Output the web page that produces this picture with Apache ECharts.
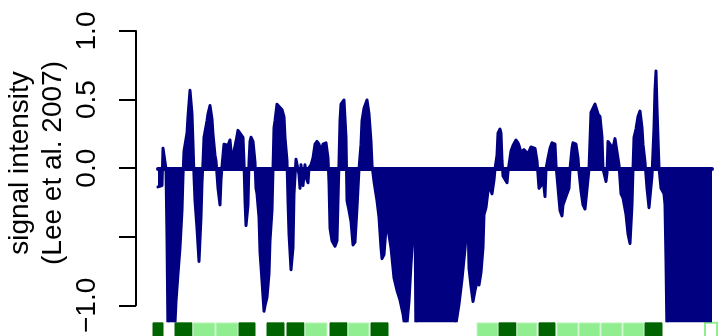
<!DOCTYPE html>
<html>
<head>
<meta charset="utf-8">
<script src="https://cdn.jsdelivr.net/npm/echarts@6/dist/echarts.min.js"></script>
<style>
  html, body { margin: 0; padding: 0; background: #fff; }
  #chart { width: 728px; height: 336px; }
</style>
</head>
<body>
<div id="chart"></div>
<script>
// probe positions (arbitrary units along the region) and signal values
const pos = [
  0, 2, 4, 5, 7, 8, 9, 10, 12, 14, 16, 17, 18, 20, 22, 24, 25, 26, 27, 29, 30, 32, 34, 35, 36, 37, 39, 41, 43, 44,
  45, 46, 49, 50, 52, 54, 55, 57, 58, 60, 62, 63, 64, 66, 68, 70, 72, 74, 75, 76, 78, 80, 82, 85, 86, 87, 88, 90, 91, 92,
  93, 95, 97, 98, 99, 101, 102, 104, 106, 107, 109, 111, 112, 114, 115, 116, 117, 119, 121, 124, 126, 127, 129, 130, 131, 133, 135, 136, 138, 140,
  141, 142, 143, 145, 147, 148, 150, 151, 153, 155, 157, 159, 161, 163, 165, 168, 170, 171, 172, 174, 177, 179, 180, 181, 182, 183, 186, 188, 189, 191,
  193, 195, 197, 199, 201, 203, 204, 206, 209, 211, 213, 214, 216, 219, 221, 223, 224, 226, 228, 229, 231, 233, 236, 239, 242, 245, 248, 250, 251, 253,
  255, 257, 258, 260, 264, 268, 272, 276, 280, 284, 288, 292, 296, 298, 301, 304, 307, 309, 310, 311, 313, 315, 317, 319, 321, 323, 325, 326, 328, 330,
  332, 334, 336, 337, 339, 340, 342, 343, 344, 345, 347, 349, 350, 352, 353, 355, 358, 360, 361, 363, 366, 368, 370, 373, 375, 377, 379, 381, 383, 385,
  387, 388, 390, 392, 394, 397, 398, 400, 402, 404, 405, 407, 409, 411, 412, 414, 415, 418, 420, 421, 423, 425, 427, 429, 431, 433, 435, 437, 439, 440,
  442, 444, 445, 448, 449, 450, 452, 455, 457, 459, 461, 463, 465, 468, 470, 472, 474, 475, 476, 478, 480, 482, 484, 485, 487, 489, 491, 492, 494, 496,
  497, 498, 499, 501, 503, 506, 507, 508, 509, 512, 517, 522, 527, 532, 537, 542, 547, 552, 554
];
const signal = [
  -0.13, -0.14, -0.12, 0.15, 0.15, 0.0, -0.5, -1.2, -1.3, -1.3, -1.25, -1.12, -0.96, -0.76, -0.57, -0.3, -0.05, 0.13, 0.13, 0.26, 0.38, 0.57, 0.4, 0.18, -0.05, -0.23, -0.43, -0.67, -0.35, -0.1,
  0.05, 0.23, 0.35, 0.4, 0.46, 0.36, 0.25, 0.1, 0.06, -0.14, -0.26, -0.08, 0.02, 0.18, 0.19, 0.17, 0.21, 0.06, 0.05, 0.06, 0.2, 0.28, 0.29, 0.23, 0.05, -0.23, -0.41, -0.26, 0.05, 0.2,
  0.23, 0.2, 0.05, -0.14, -0.18, -0.35, -0.6, -0.81, -1.03, -0.99, -0.93, -0.76, -0.52, -0.3, 0.0, 0.3, 0.35, 0.47, 0.48, 0.43, 0.38, 0.23, 0.06, -0.23, -0.47, -0.73, -0.57, -0.18, 0.07, 0.07,
  -0.04, -0.14, 0.03, -0.12, 0.03, -0.06, -0.1, 0.01, 0.03, 0.08, 0.18, 0.2, 0.18, 0.13, 0.18, 0.19, 0.08, -0.1, -0.43, -0.52, -0.56, -0.52, -0.23, 0.05, 0.35, 0.47, 0.5, 0.23, -0.23, -0.3,
  -0.38, -0.55, -0.53, -0.28, 0.0, 0.18, 0.35, 0.44, 0.5, 0.4, 0.2, 0.03, -0.09, -0.23, -0.35, -0.57, -0.65, -0.62, -0.43, -0.4, -0.48, -0.57, -0.79, -0.88, -0.95, -1.05, -1.2, -1.2, -0.96, -0.69,
  -0.47, -0.27, -1.3, -1.3, -1.4, -1.35, -1.4, -1.3, -1.35, -1.4, -1.3, -1.35, -1.25, -1.12, -0.98, -0.8, -0.58, -0.4, -0.35, -0.72, -0.85, -0.96, -0.88, -0.82, -0.84, -0.75, -0.57, -0.33, -0.28, -0.16,
  -0.14, -0.18, -0.08, 0.0, 0.1, 0.26, 0.29, 0.26, 0.06, -0.05, -0.06, -0.1, -0.02, 0.08, 0.13, 0.17, 0.21, 0.19, 0.17, 0.12, 0.14, 0.13, 0.11, 0.16, 0.15, 0.15, 0.06, -0.14, -0.12, -0.06,
  -0.2, 0.0, 0.08, 0.15, 0.19, 0.18, 0.03, 0.02, -0.3, -0.34, -0.26, -0.26, -0.18, -0.14, 0.0, 0.15, 0.19, 0.18, 0.08, -0.02, -0.16, -0.26, -0.29, -0.3, 0.0, 0.41, 0.42, 0.47, 0.47, 0.4,
  0.38, 0.23, 0.0, -0.09, -0.03, 0.2, 0.21, 0.15, 0.22, 0.22, 0.03, -0.18, -0.21, -0.33, -0.47, -0.54, -0.26, 0.0, 0.23, 0.29, 0.38, 0.42, 0.3, 0.18, 0.05, -0.14, -0.28, -0.29, -0.05, 0.3,
  0.57, 0.71, 0.44, 0.01, -0.14, -0.18, -0.26, -0.67, -1.2, -1.3, -1.35, -1.4, -1.3, -1.35, -1.4, -1.3, -1.35, -1.3, -1.25
];

// annotated features under the profile
const featStart = [-5, 17, 35, 58, 81, 109, 129, 147, 172, 190, 213, 319, 341, 359, 381, 399, 421, 443, 465, 487, 547];
const featEnd   = [5, 34, 57, 80, 97, 126, 146, 169, 189, 211, 230, 340, 358, 379, 397, 420, 442, 464, 486, 504, 559];
const featType  = ['dark', 'dark', 'light', 'light', 'dark', 'dark', 'dark', 'light', 'dark', 'light', 'dark',
                   'light', 'dark', 'light', 'dark', 'light', 'light', 'light', 'light', 'dark', 'open'];

const yTicks = [-1, -0.5, 0, 0.5, 1];
const yTickText = ['-1.0', '', '0.0', '0.5', '1.0'];

const NAVY = '#000080';
const FONT = 'Liberation Sans, Arial, Helvetica, sans-serif';

const chart = echarts.init(document.getElementById('chart'));

const featFill = { dark: '#006400', light: '#90EE90', open: '#ffffff' };
const featStroke = { dark: '#006400', light: '#c8f5c8', open: '#90EE90' };

const option = {
  animation: false,
  backgroundColor: '#ffffff',
  grid: [
    { left: 136, top: 31, right: 0, height: 276 },
    { left: 136, top: 31, right: 0, height: 289.8 }
  ],
  xAxis: [
    { gridIndex: 0, type: 'value', min: -22, max: 570, show: false },
    { gridIndex: 1, type: 'value', min: -22, max: 570, show: false }
  ],
  yAxis: [
    {
      gridIndex: 0, type: 'value', min: -1, max: 1, interval: 0.5,
      axisLine: { show: true, onZero: false, lineStyle: { color: '#000', width: 2 } },
      axisTick: { show: true, length: 17, lineStyle: { color: '#000', width: 2 } },
      splitLine: { show: false },
      axisLabel: {
        rotate: 90, margin: 35, color: '#000', fontSize: 28, fontFamily: FONT,
        formatter: v => {
          const i = yTicks.findIndex(t => Math.abs(t - v) < 1e-9);
          return i < 0 ? '' : yTickText[i].replace('-', '\u2212');
        }
      }
    },
    { gridIndex: 1, type: 'value', min: -1.1, max: 1, show: false }
  ],
  graphic: [{
    type: 'text', x: 37, y: 163, rotation: Math.PI / 2,
    style: {
      text: 'signal intensity\n(Lee et al. 2007)',
      font: '28px ' + FONT, lineHeight: 33,
      textAlign: 'center', textVerticalAlign: 'middle', fill: '#000'
    }
  }],
  series: [
    {
      type: 'line', xAxisIndex: 1, yAxisIndex: 1, clip: true,
      showSymbol: false, symbol: 'none',
      data: pos.map((p, i) => [p, signal[i]]),
      lineStyle: { color: NAVY, width: 3, cap: 'round', join: 'round' },
      areaStyle: { color: NAVY, opacity: 1 }
    },
    {
      type: 'line', xAxisIndex: 1, yAxisIndex: 1, symbol: 'none',
      data: [[pos[0], 0], [pos[pos.length - 1], 0]],
      lineStyle: { color: NAVY, width: 4, cap: 'round' }
    },
    {
      type: 'custom', xAxisIndex: 1, yAxisIndex: 1, clip: false,
      data: featStart.map((s, i) => [s, featEnd[i], i]),
      renderItem: (params, api) => {
        const i = api.value(2);
        const t = featType[i];
        const p0 = api.coord([api.value(0), -1.115]);
        const p1 = api.coord([api.value(1), -1.4]);
        const lw = t === 'open' ? 2 : 1;
        return {
          type: 'rect',
          shape: { x: p0[0], y: p0[1], width: p1[0] - p0[0], height: p1[1] - p0[1] },
          style: { fill: featFill[t], stroke: featStroke[t], lineWidth: lw }
        };
      }
    }
  ]
};

chart.setOption(option);
</script>
</body>
</html>
